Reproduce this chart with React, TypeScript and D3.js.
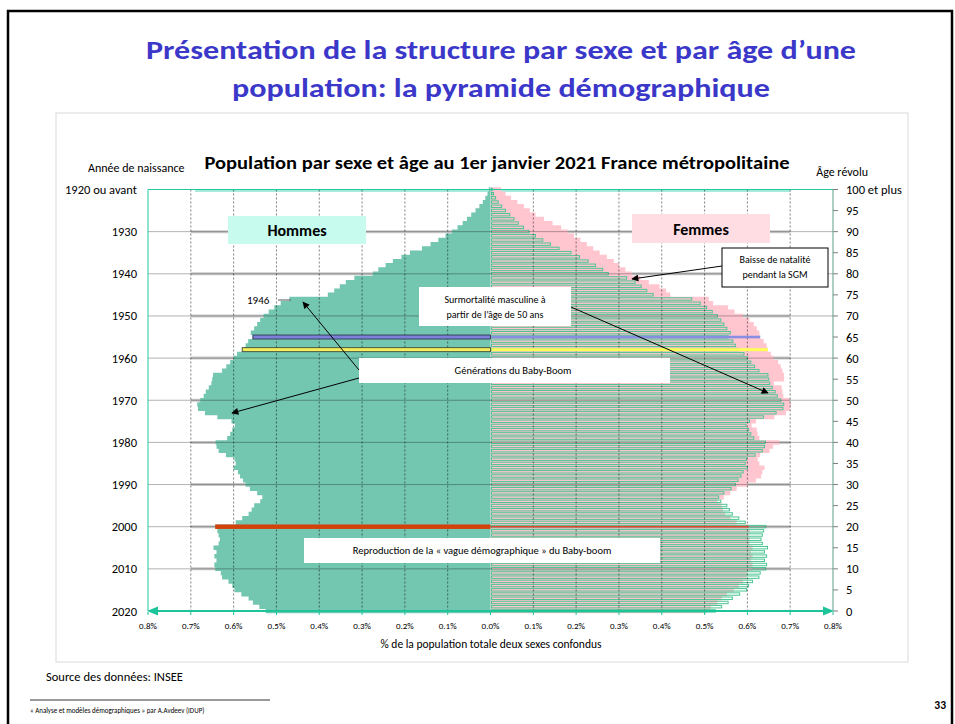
import React from 'react';
import * as d3 from 'd3';

// ---- Data (share of total population, %, by single year of age 0..100+) ----
const MALE = [
  0.525, 0.540, 0.555, 0.565, 0.582, 0.598, 0.603, 0.612, 0.627, 0.630,
  0.643, 0.645, 0.640, 0.645, 0.640, 0.647, 0.635, 0.632, 0.635, 0.638,
  0.643, 0.595, 0.580, 0.565, 0.558, 0.552, 0.538, 0.533, 0.545, 0.562,
  0.572, 0.578, 0.585, 0.590, 0.600, 0.595, 0.598, 0.618, 0.635, 0.640,
  0.642, 0.615, 0.608, 0.603, 0.597, 0.605, 0.638, 0.667, 0.683, 0.685,
  0.678, 0.670, 0.665, 0.658, 0.652, 0.650, 0.648, 0.627, 0.617, 0.608,
  0.600, 0.592, 0.580, 0.572, 0.566, 0.555, 0.560, 0.552, 0.545, 0.538,
  0.530, 0.518, 0.505, 0.490, 0.470, 0.380, 0.365, 0.352, 0.338, 0.318,
  0.275, 0.262, 0.245, 0.228, 0.208, 0.188, 0.160, 0.140, 0.122, 0.105,
  0.090, 0.077, 0.065, 0.055, 0.045, 0.035, 0.026, 0.018, 0.012, 0.007,
  0.004,
];

const FEMALE = [
  0.505, 0.515, 0.530, 0.540, 0.552, 0.568, 0.580, 0.590, 0.598, 0.600,
  0.610, 0.612, 0.608, 0.612, 0.608, 0.612, 0.605, 0.605, 0.603, 0.606,
  0.603, 0.575, 0.560, 0.548, 0.543, 0.540, 0.530, 0.545, 0.560, 0.575,
  0.600, 0.620, 0.632, 0.635, 0.640, 0.628, 0.624, 0.630, 0.652, 0.660,
  0.675, 0.628, 0.624, 0.622, 0.610, 0.620, 0.663, 0.690, 0.700, 0.702,
  0.698, 0.684, 0.682, 0.680, 0.662, 0.686, 0.686, 0.682, 0.678, 0.672,
  0.662, 0.655, 0.648, 0.645, 0.638, 0.630, 0.628, 0.622, 0.615, 0.605,
  0.590, 0.570, 0.555, 0.520, 0.510, 0.420, 0.410, 0.395, 0.370, 0.350,
  0.330, 0.315, 0.300, 0.288, 0.272, 0.255, 0.240, 0.225, 0.210, 0.195,
  0.180, 0.165, 0.145, 0.125, 0.105, 0.092, 0.078, 0.063, 0.048, 0.035,
  0.025,
];

const AGES = MALE.map((_, i) => i);
const HIGHLIGHT_AGES = [20, 65, 62]; // 2000, 1955, 1958
const X_TICKS = [-0.8, -0.7, -0.6, -0.5, -0.4, -0.3, -0.2, -0.1, 0, 0.1, 0.2, 0.3, 0.4, 0.5, 0.6, 0.7, 0.8];
const GRID_X = [-0.7, -0.6, -0.5, -0.4, -0.3, -0.2, -0.1, 0.1, 0.2, 0.3, 0.4, 0.5, 0.6, 0.7];
const AGE_TICKS = [0, 5, 10, 15, 20, 25, 30, 35, 40, 45, 50, 55, 60, 65, 70, 75, 80, 85, 90, 95, 100];
const AGE_LABELS = ['0', '5', '10', '15', '20', '25', '30', '35', '40', '45', '50', '55', '60', '65', '70', '75', '80', '85', '90', '95', '100 et plus'];
const YEAR_AGES = [0, 10, 20, 30, 40, 50, 60, 70, 80, 90, 100];
const YEAR_LABELS = ['2020', '2010', '2000', '1990', '1980', '1970', '1960', '1950', '1940', '1930', '1920 ou avant'];
const GRID_AGES = [10, 20, 30, 40, 50, 60, 70, 80, 90];

const FONT = "Carlito, Lato, 'Open Sans', sans-serif";
const HL_STYLE: Record<number, { left: string; right: string; stroke: string; h: number; rh: number }> = {
  20: { left: '#d4420c', right: '#e8452e', stroke: 'none', h: 4.5, rh: 1.6 },
  65: { left: '#7d80d6', right: '#8a8ee2', stroke: '#2d3b55', h: 4, rh: 2.6 },
  62: { left: '#f4ee5c', right: '#ffff55', stroke: '#3c4a3c', h: 4, rh: 3 },
};

export default function App() {
  const x = d3.scaleLinear().domain([-0.8, 0.8]).range([148, 833]);
  const y = d3.scaleLinear().domain([0, 100]).range([611, 189.5]);
  const step = Math.abs(y(1) - y(0));
  const x0 = x(0);

  // union of bars as a single path (no anti-aliasing seams between rows)
  const barsPath = (vals: number[], sign: number) => {
    const p = d3.path();
    AGES.forEach((a) => {
      const xe = x(sign * vals[a]);
      const top = y(a) - step / 2 - 0.15;
      const bot = y(a) + step / 2 + 0.15;
      p.moveTo(x0, top);
      if (sign > 0) { p.lineTo(xe, top); p.lineTo(xe, bot); p.lineTo(x0, bot); }
      else { p.lineTo(x0, bot); p.lineTo(xe, bot); p.lineTo(xe, top); }
      p.closePath();
    });
    return p.toString();
  };

  return (
    <svg width={955} height={724} style={{ position: 'absolute', left: 0, top: 0, background: '#fff' }} fontFamily={FONT}>
      <defs>
        <marker id="arr" viewBox="0 0 10 10" refX="9" refY="5" markerWidth="9" markerHeight="7" orient="auto" markerUnits="userSpaceOnUse">
          <path d="M0,0 L10,5 L0,10 z" fill="#000" />
        </marker>
      </defs>
      <rect x={0} y={0} width={955} height={724} fill="#fff" />
      {/* slide frame */}
      <rect x={8} y={11} width={944} height={730} fill="none" stroke="#000" strokeWidth={2.5} />

      {/* slide title */}
      <text x={501} y={59} textAnchor="middle" fontSize={27} fontWeight="bold" fill="#3b38c9" textLength={710} lengthAdjust="spacingAndGlyphs">
        Présentation de la structure par sexe et par âge d’une
      </text>
      <text x={501} y={97} textAnchor="middle" fontSize={27} fontWeight="bold" fill="#3b38c9" textLength={538} lengthAdjust="spacingAndGlyphs">
        population: la pyramide démographique
      </text>

      {/* chart box */}
      <rect x={56} y={113} width={852} height={549} fill="#fff" stroke="#d9d9d9" strokeWidth={1} />
      <text x={497} y={169} textAnchor="middle" fontSize={17} fontWeight="bold" fill="#000" textLength={585} lengthAdjust="spacingAndGlyphs">
        Population par sexe et âge au 1er janvier 2021 France métropolitaine
      </text>
      <text x={88} y={172} fontSize={12} fill="#000">Année de naissance</text>
      <text x={868} y={176} textAnchor="end" fontSize={12} fill="#000">Âge révolu</text>

      {/* light thick grid segments under bars */}
      {GRID_AGES.map((a) => (
        <line key={'lg' + a} x1={x(-0.7)} x2={x(0.7)} y1={y(a)} y2={y(a)} stroke="#cacaca" strokeWidth={3} />
      ))}
      <line x1={x(-0.69)} x2={x(0.7)} y1={y(100) + 1} y2={y(100) + 1} stroke="#a6eadb" strokeWidth={3} />

      {/* female bars (right, pink) */}
      <path d={barsPath(FEMALE, 1)} fill="#ffc6d0" />
      {/* male bars (left, green) */}
      <path d={barsPath(MALE, -1)} fill="#73c6b0" />
      {/* male profile mirrored as outlines on the female side */}
      {AGES.map((a) => (
        <rect key={'mo' + a} x={x0 + 1} y={y(a) - step / 2 + 0.8} width={Math.max(0, x(MALE[a]) - x0 - 1)} height={step - 1.8}
          fill="none" stroke="#4cc593" strokeWidth={1} />
      ))}

      {/* grid lines on top, semi transparent */}
      {GRID_X.map((v) => (
        <line key={'gx' + v} x1={x(v)} x2={x(v)} y1={y(100)} y2={y(0)} stroke="#000" strokeOpacity={0.5} strokeWidth={1} strokeDasharray="2,2" />
      ))}
      {GRID_AGES.map((a) => (
        <line key={'gy' + a} x1={x(-0.8)} x2={x(0.8)} y1={y(a)} y2={y(a)} stroke="#000" strokeOpacity={0.3} strokeWidth={1} />
      ))}

      {/* highlighted generations */}
      {HIGHLIGHT_AGES.map((a) => {
        const s = HL_STYLE[a];
        return (
          <g key={'h' + a}>
            <rect x={x(-MALE[a])} y={y(a) - s.h / 2} width={x0 - x(-MALE[a])} height={s.h} fill={s.left}
              stroke={s.stroke} strokeWidth={s.stroke === 'none' ? 0 : 0.9} />
            <rect x={x0 + 1} y={y(a) - s.rh / 2} width={x(FEMALE[a]) - x0 - 1} height={s.rh} fill={s.right} />
          </g>
        );
      })}

      {/* axes */}
      <line x1={x(-0.8)} x2={x(-0.8)} y1={y(100)} y2={y(0)} stroke="#22c99c" strokeWidth={1} />
      <line x1={x(-0.8)} x2={x(0.8)} y1={y(100)} y2={y(100)} stroke="#22c99c" strokeWidth={1} />
      <line x1={x(0.8)} x2={x(0.8)} y1={y(100)} y2={y(0)} stroke="#5f9e8c" strokeWidth={1} />
      {AGE_TICKS.map((a, i) => (
        <g key={'at' + a}>
          <line x1={x(0.8)} x2={x(0.8) + 5} y1={y(a)} y2={y(a)} stroke="#7f7f7f" strokeWidth={1} />
          <text x={846} y={y(a) + 4.5} fontSize={12.5} fill="#000">{AGE_LABELS[i]}</text>
        </g>
      ))}
      {YEAR_AGES.map((a, i) => (
        <text key={'yl' + a} x={137} y={y(a) + 4.5} textAnchor="end" fontSize={12.5} fill="#000">{YEAR_LABELS[i]}</text>
      ))}
      <line x1={x(-0.8) + 6} x2={x(0.8) - 6} y1={y(0)} y2={y(0)} stroke="#1dc49a" strokeWidth={1.8} />
      <path d={`M${x(-0.8) - 1},${y(0)} L${x(-0.8) + 10},${y(0) - 4.5} L${x(-0.8) + 10},${y(0) + 4.5} Z`} fill="#1dc49a" />
      <path d={`M${x(0.8) + 1},${y(0)} L${x(0.8) - 10},${y(0) - 4.5} L${x(0.8) - 10},${y(0) + 4.5} Z`} fill="#1dc49a" />
      {X_TICKS.map((v) => (
        <g key={'xt' + v}>
          <line x1={x(v)} x2={x(v)} y1={y(0) + 1} y2={y(0) + 4} stroke="#1dc49a" strokeWidth={1} />
          <text x={x(v)} y={629} textAnchor="middle" fontSize={9} fill="#000">{Math.abs(v).toFixed(1)}%</text>
        </g>
      ))}
      <text x={491} y={648} textAnchor="middle" fontSize={11.5} fill="#000">% de la population totale deux sexes confondus</text>

      {/* sex labels */}
      <rect x={228} y={216} width={138} height={28} fill="#c6fbee" />
      <text x={297} y={236} textAnchor="middle" fontSize={16} fontWeight="bold" fill="#000">Hommes</text>
      <rect x={632} y={214} width={138} height={29} fill="#ffdde3" />
      <text x={701} y={235} textAnchor="middle" fontSize={16} fontWeight="bold" fill="#000">Femmes</text>

      {/* annotations */}
      <rect x={722} y={248} width={106} height={39} fill="#fff" stroke="#000" strokeWidth={1} />
      <text x={775} y={263} textAnchor="middle" fontSize={10} fill="#000">Baisse de natalité</text>
      <text x={775} y={278} textAnchor="middle" fontSize={10} fill="#000">pendant la SGM</text>
      <line x1={722} y1={266} x2={632} y2={279} stroke="#000" strokeWidth={1} markerEnd="url(#arr)" />

      <rect x={419} y={287} width={152} height={39} fill="#fff" />
      <text x={495} y={303} textAnchor="middle" fontSize={10} fill="#000">Surmortalité masculine à</text>
      <text x={495} y={318} textAnchor="middle" fontSize={10} fill="#000">partir de l’âge de 50 ans</text>
      <line x1={571} y1={307} x2={768} y2={393} stroke="#000" strokeWidth={1} markerEnd="url(#arr)" />

      <text x={247} y={304} fontSize={11} fill="#000">1946</text>
      <line x1={278} x2={291} y1={300} y2={300} stroke="#555" strokeWidth={1} />

      <rect x={359} y={358} width={311} height={25} fill="#fff" />
      <text x={513} y={374} textAnchor="middle" fontSize={10.5} fill="#000">Générations du Baby-Boom</text>
      <line x1={359} y1={370} x2={303} y2={302} stroke="#000" strokeWidth={1} markerEnd="url(#arr)" />
      <line x1={359} y1={378} x2={232} y2={413} stroke="#000" strokeWidth={1} markerEnd="url(#arr)" />

      <rect x={304} y={538} width={356} height={25} fill="#fff" />
      <text x={482} y={554} textAnchor="middle" fontSize={10.5} fill="#000">Reproduction de la « vague démographique » du Baby-boom</text>

      {/* source and footer */}
      <text x={46} y={681} fontSize={12.5} fill="#000">Source des données: INSEE</text>
      <line x1={30} x2={270} y1={700} y2={700} stroke="#000" strokeWidth={0.8} />
      <text x={30} y={713} fontSize={7} fill="#000">« Analyse et modèles démographiques » par A.Avdeev (IDUP)</text>
      <text x={946} y={709} textAnchor="end" fontSize={11.5} fontWeight="bold" fill="#000">33</text>
    </svg>
  );
}
